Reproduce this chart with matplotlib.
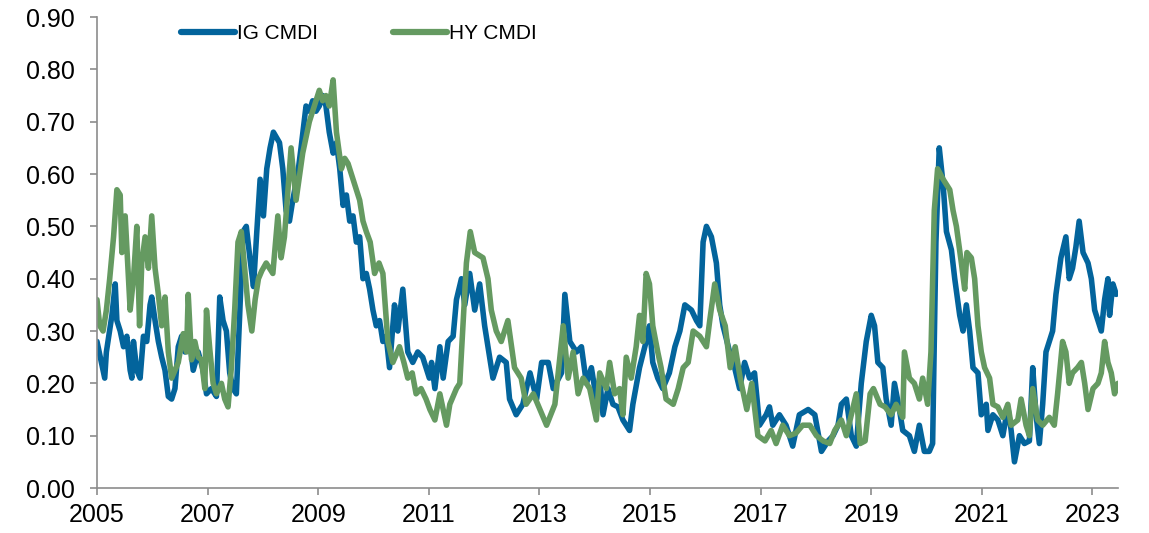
import matplotlib.pyplot as plt
from matplotlib.ticker import FormatStrFormatter

# IG CMDI, decimal year / index level
ig_dates = [2005.00, 2005.08, 2005.14, 2005.17, 2005.27, 2005.33, 2005.36, 2005.42, 2005.48, 2005.54,
            2005.60, 2005.63, 2005.66, 2005.72, 2005.78, 2005.84, 2005.90, 2005.96, 2005.99, 2006.05,
            2006.11, 2006.17, 2006.23, 2006.29, 2006.35, 2006.41, 2006.47, 2006.53, 2006.59, 2006.68,
            2006.74, 2006.83, 2006.92, 2006.98, 2007.07, 2007.16, 2007.22, 2007.28, 2007.34, 2007.40,
            2007.46, 2007.52, 2007.58, 2007.64, 2007.70, 2007.77, 2007.83, 2007.89, 2007.95, 2008.01,
            2008.07, 2008.13, 2008.19, 2008.30, 2008.36, 2008.42, 2008.48, 2008.54, 2008.63, 2008.69,
            2008.78, 2008.84, 2008.90, 2008.96, 2009.02, 2009.08, 2009.14, 2009.20, 2009.27, 2009.33,
            2009.39, 2009.45, 2009.51, 2009.57, 2009.63, 2009.69, 2009.75, 2009.81, 2009.87, 2009.93,
            2009.99, 2010.05, 2010.11, 2010.17, 2010.23, 2010.29, 2010.38, 2010.44, 2010.53, 2010.62,
            2010.71, 2010.80, 2010.89, 2011.01, 2011.05, 2011.11, 2011.20, 2011.26, 2011.35, 2011.44,
            2011.50, 2011.59, 2011.65, 2011.74, 2011.83, 2011.92, 2012.01, 2012.10, 2012.16, 2012.28,
            2012.40, 2012.46, 2012.58, 2012.70, 2012.83, 2012.95, 2013.04, 2013.16, 2013.25, 2013.40,
            2013.46, 2013.55, 2013.67, 2013.76, 2013.85, 2013.94, 2014.03, 2014.09, 2014.15, 2014.24,
            2014.33, 2014.42, 2014.51, 2014.63, 2014.69, 2014.81, 2014.93, 2014.99, 2015.05, 2015.14,
            2015.23, 2015.35, 2015.45, 2015.54, 2015.63, 2015.75, 2015.84, 2015.90, 2015.96, 2016.02,
            2016.11, 2016.20, 2016.26, 2016.32, 2016.44, 2016.53, 2016.62, 2016.71, 2016.80, 2016.89,
            2016.98, 2017.10, 2017.16, 2017.22, 2017.34, 2017.46, 2017.58, 2017.70, 2017.86, 2017.98,
            2018.10, 2018.22, 2018.31, 2018.40, 2018.46, 2018.55, 2018.64, 2018.73, 2018.82, 2018.91,
            2019.00, 2019.06, 2019.12, 2019.21, 2019.27, 2019.36, 2019.42, 2019.51, 2019.57, 2019.69,
            2019.78, 2019.87, 2019.96, 2020.05, 2020.11, 2020.17, 2020.23, 2020.30, 2020.36, 2020.45,
            2020.51, 2020.60, 2020.66, 2020.72, 2020.78, 2020.84, 2020.93, 2020.99, 2021.08, 2021.11,
            2021.20, 2021.29, 2021.38, 2021.47, 2021.53, 2021.59, 2021.68, 2021.77, 2021.86, 2021.92,
            2021.98, 2022.04, 2022.10, 2022.16, 2022.22, 2022.28, 2022.34, 2022.43, 2022.52, 2022.58,
            2022.64, 2022.70, 2022.76, 2022.83, 2022.92, 2022.98, 2023.04, 2023.10, 2023.16, 2023.22,
            2023.28, 2023.31, 2023.37, 2023.43]
ig_vals = [0.28, 0.24, 0.21, 0.26, 0.33, 0.39, 0.32, 0.30, 0.27, 0.29,
           0.225, 0.21, 0.28, 0.225, 0.21, 0.29, 0.28, 0.35, 0.365, 0.32,
           0.28, 0.25, 0.225, 0.175, 0.17, 0.19, 0.27, 0.29, 0.26, 0.28,
           0.225, 0.26, 0.225, 0.18, 0.19, 0.175, 0.365, 0.32, 0.30, 0.22,
           0.19, 0.18, 0.33, 0.49, 0.50, 0.435, 0.385, 0.49, 0.59, 0.52,
           0.61, 0.65, 0.68, 0.66, 0.61, 0.53, 0.51, 0.55, 0.60, 0.65,
           0.73, 0.72, 0.74, 0.72, 0.73, 0.75, 0.73, 0.68, 0.64, 0.66,
           0.61, 0.54, 0.56, 0.51, 0.52, 0.47, 0.48, 0.40, 0.41, 0.38,
           0.34, 0.31, 0.32, 0.28, 0.29, 0.23, 0.35, 0.30, 0.38, 0.26,
           0.24, 0.26, 0.25, 0.21, 0.24, 0.19, 0.27, 0.21, 0.28, 0.29,
           0.36, 0.40, 0.35, 0.41, 0.34, 0.39, 0.31, 0.25, 0.21, 0.25,
           0.24, 0.17, 0.14, 0.16, 0.22, 0.17, 0.24, 0.24, 0.19, 0.22,
           0.37, 0.28, 0.26, 0.27, 0.20, 0.23, 0.17, 0.21, 0.14, 0.19,
           0.16, 0.155, 0.13, 0.11, 0.16, 0.23, 0.28, 0.31, 0.24, 0.21,
           0.19, 0.22, 0.27, 0.30, 0.35, 0.34, 0.32, 0.31, 0.47, 0.50,
           0.48, 0.43, 0.35, 0.31, 0.26, 0.23, 0.19, 0.24, 0.21, 0.22,
           0.12, 0.14, 0.155, 0.12, 0.14, 0.12, 0.08, 0.14, 0.15, 0.14,
           0.07, 0.09, 0.10, 0.12, 0.16, 0.17, 0.10, 0.08, 0.20, 0.28,
           0.33, 0.31, 0.24, 0.23, 0.17, 0.12, 0.20, 0.15, 0.11, 0.10,
           0.07, 0.12, 0.07, 0.07, 0.085, 0.47, 0.65, 0.58, 0.49, 0.455,
           0.40, 0.33, 0.30, 0.35, 0.30, 0.23, 0.22, 0.14, 0.16, 0.11,
           0.14, 0.13, 0.10, 0.155, 0.11, 0.05, 0.10, 0.085, 0.09, 0.23,
           0.14, 0.085, 0.16, 0.26, 0.28, 0.30, 0.37, 0.44, 0.48, 0.40,
           0.42, 0.46, 0.51, 0.45, 0.43, 0.40, 0.34, 0.32, 0.30, 0.36,
           0.40, 0.33, 0.39, 0.37]

# HY CMDI
hy_dates = [2005.00, 2005.05, 2005.11, 2005.17, 2005.23, 2005.30, 2005.36, 2005.42, 2005.45, 2005.51,
            2005.57, 2005.60, 2005.66, 2005.72, 2005.77, 2005.81, 2005.87, 2005.93, 2005.99, 2006.05,
            2006.11, 2006.17, 2006.23, 2006.29, 2006.35, 2006.41, 2006.47, 2006.56, 2006.62, 2006.65,
            2006.71, 2006.77, 2006.83, 2006.89, 2006.95, 2006.98, 2007.04, 2007.10, 2007.16, 2007.25,
            2007.31, 2007.37, 2007.43, 2007.49, 2007.55, 2007.61, 2007.67, 2007.73, 2007.80, 2007.86,
            2007.92, 2007.98, 2008.06, 2008.18, 2008.27, 2008.33, 2008.39, 2008.51, 2008.60, 2008.72,
            2008.84, 2008.96, 2009.02, 2009.08, 2009.14, 2009.20, 2009.27, 2009.33, 2009.42, 2009.48,
            2009.54, 2009.60, 2009.66, 2009.75, 2009.81, 2009.87, 2009.94, 2010.02, 2010.10, 2010.17,
            2010.26, 2010.35, 2010.47, 2010.55, 2010.62, 2010.70, 2010.77, 2010.86, 2010.95, 2011.02,
            2011.11, 2011.20, 2011.32, 2011.38, 2011.50, 2011.56, 2011.68, 2011.75, 2011.83, 2011.98,
            2012.07, 2012.13, 2012.22, 2012.31, 2012.43, 2012.55, 2012.67, 2012.76, 2012.89, 2013.01,
            2013.13, 2013.28, 2013.43, 2013.52, 2013.61, 2013.70, 2013.79, 2013.91, 2014.03, 2014.09,
            2014.21, 2014.27, 2014.36, 2014.45, 2014.51, 2014.57, 2014.66, 2014.75, 2014.81, 2014.87,
            2014.93, 2014.99, 2015.05, 2015.14, 2015.20, 2015.29, 2015.42, 2015.51, 2015.60, 2015.69,
            2015.78, 2015.90, 2016.02, 2016.08, 2016.17, 2016.26, 2016.36, 2016.45, 2016.54, 2016.63,
            2016.75, 2016.84, 2016.95, 2017.08, 2017.19, 2017.28, 2017.40, 2017.52, 2017.64, 2017.76,
            2017.89, 2018.01, 2018.13, 2018.25, 2018.34, 2018.46, 2018.55, 2018.64, 2018.73, 2018.80,
            2018.89, 2018.98, 2019.04, 2019.16, 2019.25, 2019.36, 2019.45, 2019.57, 2019.60, 2019.69,
            2019.78, 2019.87, 2019.93, 2020.02, 2020.08, 2020.14, 2020.20, 2020.30, 2020.36, 2020.42,
            2020.48, 2020.54, 2020.63, 2020.69, 2020.73, 2020.81, 2020.87, 2020.93, 2020.99, 2021.05,
            2021.14, 2021.20, 2021.29, 2021.38, 2021.47, 2021.53, 2021.65, 2021.71, 2021.80, 2021.86,
            2021.92, 2022.01, 2022.10, 2022.22, 2022.31, 2022.37, 2022.46, 2022.52, 2022.58, 2022.64,
            2022.73, 2022.80, 2022.86, 2022.92, 2023.01, 2023.10, 2023.16, 2023.22, 2023.28, 2023.34,
            2023.40, 2023.46]
hy_vals = [0.36, 0.31, 0.30, 0.34, 0.40, 0.48, 0.57, 0.56, 0.45, 0.52,
           0.40, 0.34, 0.40, 0.50, 0.31, 0.43, 0.48, 0.42, 0.52, 0.42,
           0.37, 0.31, 0.365, 0.26, 0.21, 0.225, 0.24, 0.295, 0.26, 0.37,
           0.245, 0.28, 0.25, 0.245, 0.19, 0.34, 0.265, 0.20, 0.18, 0.20,
           0.17, 0.155, 0.23, 0.34, 0.47, 0.49, 0.42, 0.35, 0.30, 0.36,
           0.40, 0.415, 0.43, 0.41, 0.52, 0.44, 0.48, 0.65, 0.55, 0.64,
           0.70, 0.74, 0.76, 0.74, 0.75, 0.73, 0.78, 0.68, 0.61, 0.63,
           0.62, 0.60, 0.58, 0.55, 0.51, 0.49, 0.47, 0.41, 0.43, 0.41,
           0.28, 0.24, 0.27, 0.24, 0.21, 0.22, 0.18, 0.19, 0.17, 0.15,
           0.13, 0.18, 0.12, 0.16, 0.19, 0.20, 0.43, 0.49, 0.45, 0.44,
           0.40, 0.34, 0.30, 0.28, 0.32, 0.23, 0.21, 0.16, 0.18, 0.15,
           0.12, 0.16, 0.31, 0.21, 0.26, 0.18, 0.21, 0.19, 0.13, 0.22,
           0.19, 0.24, 0.18, 0.19, 0.14, 0.25, 0.21, 0.27, 0.33, 0.28,
           0.41, 0.39, 0.31, 0.26, 0.23, 0.17, 0.16, 0.19, 0.23, 0.24,
           0.30, 0.29, 0.27, 0.32, 0.39, 0.34, 0.31, 0.23, 0.27, 0.21,
           0.15, 0.20, 0.10, 0.09, 0.11, 0.085, 0.12, 0.10, 0.105, 0.12,
           0.12, 0.10, 0.09, 0.085, 0.11, 0.13, 0.10, 0.14, 0.18, 0.085,
           0.09, 0.18, 0.19, 0.16, 0.155, 0.14, 0.16, 0.135, 0.26, 0.21,
           0.20, 0.17, 0.21, 0.16, 0.26, 0.53, 0.61, 0.59, 0.58, 0.57,
           0.53, 0.50, 0.43, 0.38, 0.45, 0.44, 0.40, 0.31, 0.26, 0.23,
           0.21, 0.16, 0.155, 0.135, 0.16, 0.12, 0.13, 0.17, 0.12, 0.10,
           0.19, 0.13, 0.12, 0.135, 0.12, 0.18, 0.28, 0.26, 0.20, 0.22,
           0.23, 0.24, 0.20, 0.15, 0.19, 0.20, 0.22, 0.28, 0.24, 0.22,
           0.18, 0.20]

year_ticks = list(range(2005, 2024, 2))
level_ticks = [i / 10 for i in range(10)]

plt.rcParams['font.family'] = ['Liberation Sans', 'DejaVu Sans']

fig = plt.figure(figsize=(11.49, 5.33), dpi=100)
ax = fig.add_axes([0.0844, 0.0844, 0.889, 0.8836])

ax.plot(ig_dates, ig_vals, color='#03649C', lw=4, label='IG CMDI',
        solid_joinstyle='round', solid_capstyle='round')
ax.plot(hy_dates, hy_vals, color='#659A61', lw=4, label='HY CMDI',
        solid_joinstyle='round', solid_capstyle='round')

ax.set_xlim(2005, 2023.47)
ax.set_ylim(0, 0.9)
ax.set_xticks(year_ticks)
ax.set_yticks(level_ticks)
ax.yaxis.set_major_formatter(FormatStrFormatter('%.2f'))

for side in ['top', 'right']:
    ax.spines[side].set_visible(False)
for side in ['left', 'bottom']:
    ax.spines[side].set_color('#8C8C8C')
    ax.spines[side].set_linewidth(1.2)
ax.tick_params(axis='both', direction='out', length=5, width=1.2,
               color='#8C8C8C', labelsize=18, labelcolor='black')
ax.tick_params(axis='x', pad=6)
ax.tick_params(axis='y', pad=11)

leg = ax.legend(loc='upper left', bbox_to_anchor=(0.082, 0.985), ncol=2,
                frameon=False, fontsize=15, handlelength=2.6,
                handletextpad=0.1, columnspacing=3.6, borderpad=0, borderaxespad=0)
for line in leg.get_lines():
    line.set_linewidth(4.5)
    line.set_solid_capstyle('round')

fig.savefig('out.png', dpi=100)
